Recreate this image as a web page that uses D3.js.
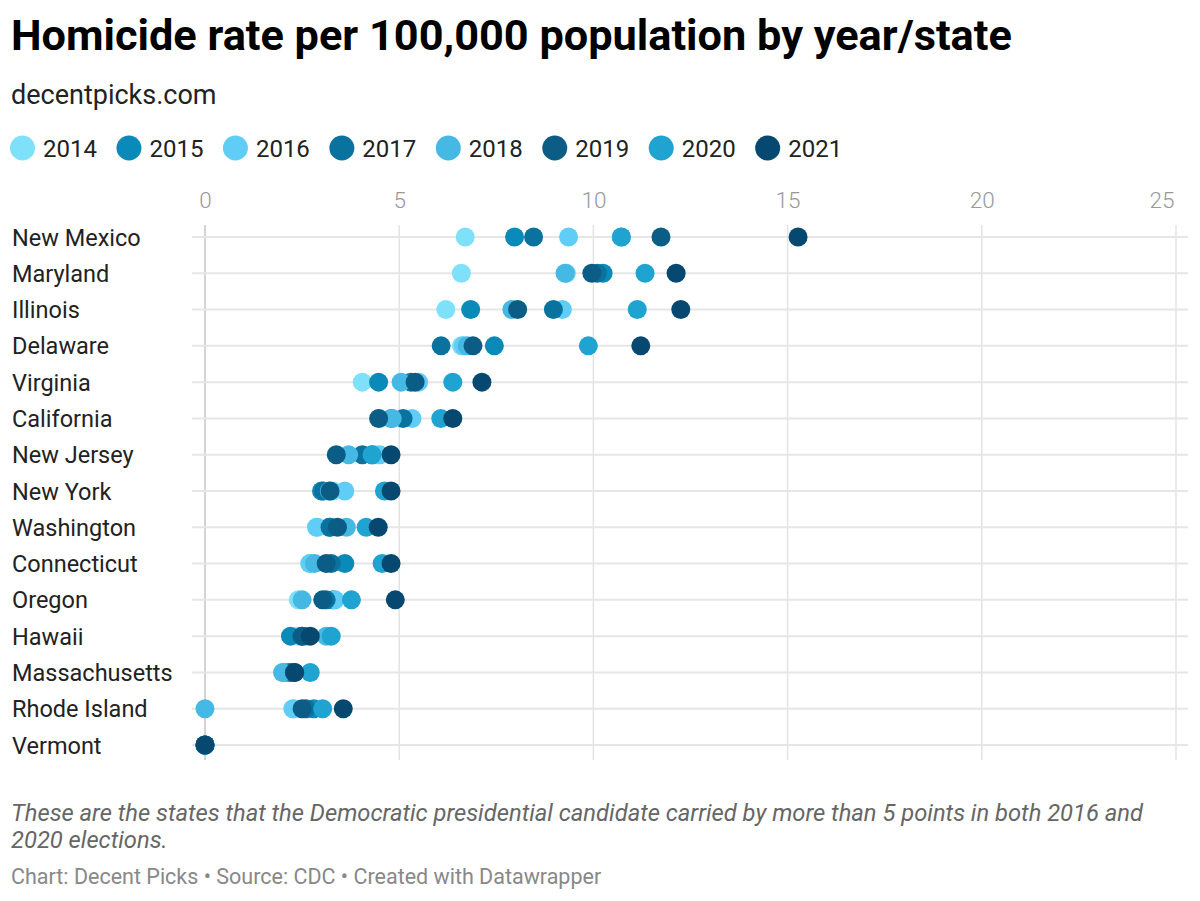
<!DOCTYPE html>
<html>
<head>
<meta charset="utf-8">
<script src="https://cdn.jsdelivr.net/npm/d3@7"></script>
<style>
  body{margin:0;background:#fff;font-family:Roboto,"Noto Sans",sans-serif;}
</style>
</head>
<body>
<script>
var states=["New Mexico","Maryland","Illinois","Delaware","Virginia","California","New Jersey","New York","Washington","Connecticut","Oregon","Hawaii","Massachusetts","Rhode Island","Vermont"];
var years=["2014","2015","2016","2017","2018","2019","2020","2021"];
var yearColors=["#7fe0fa","#0a8ab8","#5fcdf6","#0a729e","#45b8e3","#0b5d86","#1fa3d0","#074870"];
var xTicks=[0,5,10,15,20,25];

// rates per 100,000, in the order of states
var r2014=[6.7,6.6,6.2,6.6,4.05,4.5,4.4,3.3,2.9,2.7,2.4,2.4,2.0,2.3,0];
var r2015=[7.97,10.25,6.84,7.45,4.47,4.8,4.3,3.0,3.2,3.6,3.3,2.2,2.1,2.8,0];
var r2016=[9.36,9.3,9.2,6.65,5.5,5.33,4.5,3.6,2.87,2.7,3.35,2.6,2.1,2.26,0];
var r2017=[8.46,10.1,8.97,6.08,5.3,5.1,4.05,3.05,3.22,3.25,3.12,2.5,2.2,2.6,0];
var r2018=[10.72,9.27,7.9,6.75,5.05,4.82,3.7,3.2,3.64,2.82,2.5,3.12,2.0,0,0];
var r2019=[11.74,9.96,8.05,6.9,5.41,4.47,3.38,3.22,3.41,3.12,3.03,2.5,2.3,2.5,0];
var r2020=[10.72,11.33,11.13,9.87,6.38,6.07,4.3,4.62,4.15,4.56,3.77,3.25,2.71,3.03,0];
var r2021=[15.27,12.13,12.25,11.22,7.13,6.38,4.79,4.79,4.46,4.79,4.9,2.71,2.31,3.56,0];
var rates=[r2014,r2015,r2016,r2017,r2018,r2019,r2020,r2021];

var svg=d3.select("body").append("svg")
          .attr("width",1200)
          .attr("height",901);

svg.append("text")
   .attr("x",11).attr("y",50)
   .attr("font-size",43.3).attr("font-weight",700).attr("fill","#000")
   .text("Homicide rate per 100,000 population by year/state");
svg.append("text")
   .attr("x",11).attr("y",104)
   .attr("font-size",27).attr("fill","#222")
   .text("decentpicks.com");

var colors=d3.scaleOrdinal().domain(years).range(yearColors);

// legend
var legend=svg.append("g").attr("transform","translate(0,148)");
var lx=10;
years.forEach(function(y){
  var g=legend.append("g").attr("transform","translate("+lx+",0)");
  g.append("circle").attr("cx",12.5).attr("cy",0).attr("r",12.5).attr("fill",colors(y));
  var t=g.append("text").attr("x",33).attr("y",8.5)
         .attr("font-size",24).attr("fill","#222").text(y);
  lx+=33+t.node().getComputedTextLength()+19.5;
});

var xScale=d3.scaleLinear().domain([0,25]).range([205,1176]);
var yScale=d3.scalePoint().domain(states).range([237,745]);

// vertical grid
svg.append("g").selectAll("line")
   .data(xTicks).enter().append("line")
   .attr("x1",function(d){return xScale(d);})
   .attr("x2",function(d){return xScale(d);})
   .attr("y1",225).attr("y2",760)
   .attr("stroke",function(d){return d===0?"#c4c4c4":"#e3e3e3";})
   .attr("stroke-width",1.5);

// horizontal row lines
svg.append("g").selectAll("line")
   .data(states).enter().append("line")
   .attr("x1",192).attr("x2",1188)
   .attr("y1",function(d){return yScale(d);})
   .attr("y2",function(d){return yScale(d);})
   .attr("stroke","#e6e6e6").attr("stroke-width",2);

// x axis labels on top
var xAxis=d3.axisTop(xScale).tickValues(xTicks).tickSize(0).tickPadding(0);
var ax=svg.append("g").attr("transform","translate(0,208)").call(xAxis);
ax.select(".domain").remove();
ax.selectAll("text")
  .attr("font-family","Roboto,sans-serif").attr("font-size",22.5).attr("font-weight",300)
  .attr("fill","#999").attr("dy",0);
ax.selectAll(".tick").filter(function(d){return d===25;}).select("text")
  .attr("text-anchor","end").attr("dx",-2);

// state labels
svg.append("g").selectAll("text")
   .data(states).enter().append("text")
   .attr("x",12)
   .attr("y",function(d){return yScale(d)+8.5;})
   .attr("font-size",23.5).attr("fill","#222")
   .text(function(d){return d;});

// dots
var series=svg.append("g").selectAll("g")
   .data(years).enter().append("g")
   .attr("fill",function(d){return colors(d);});
series.selectAll("circle")
   .data(function(d,i){return rates[i];})
   .enter().append("circle")
   .attr("cx",function(d){return xScale(d);})
   .attr("cy",function(d,i){return yScale(states[i]);})
   .attr("r",9.5);

// notes
var note=svg.append("text").attr("font-size",23.75).attr("font-style","italic").attr("fill","#666");
note.append("tspan").attr("x",11).attr("y",821)
    .text("These are the states that the Democratic presidential candidate carried by more than 5 points in both 2016 and");
note.append("tspan").attr("x",11).attr("y",848).text("2020 elections.");
svg.append("text").attr("x",11).attr("y",884)
   .attr("font-size",21.5).attr("fill","#888")
   .text("Chart: Decent Picks \u2022 Source: CDC \u2022 Created with Datawrapper");
</script>
</body>
</html>
